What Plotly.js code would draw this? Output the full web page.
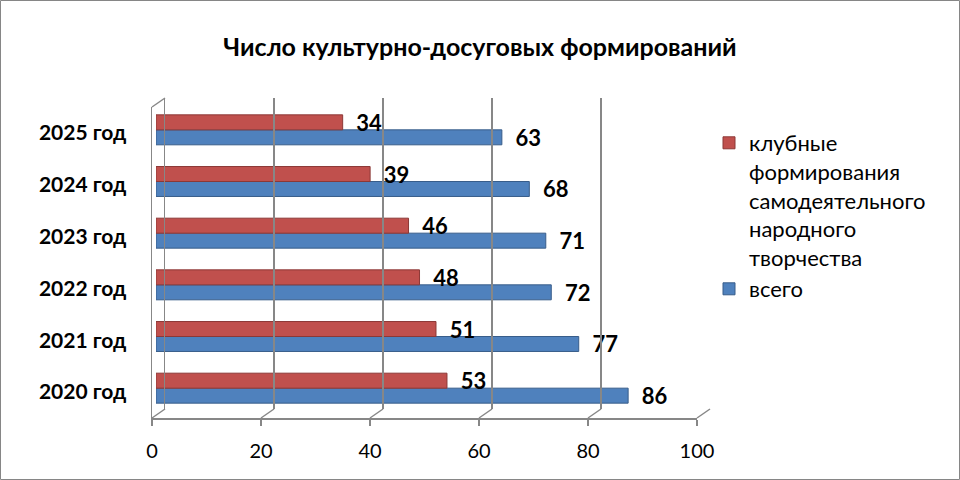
<!DOCTYPE html>
<html>
<head>
<meta charset="utf-8">
<script src="https://cdn.plot.ly/plotly-3.0.1.min.js"></script>
<style>html, body { margin: 0; padding: 0; background: #fff; }</style>
</head>
<body>
<div id="chart" style="width:960px;height:480px"></div>
<script>
const years = ['2020 год', '2021 год', '2022 год', '2023 год', '2024 год', '2025 год'];
const totalValues = [86, 77, 72, 71, 68, 63];
const clubValues = [53, 51, 48, 46, 39, 34];
const xTicks = [0, 20, 40, 60, 80, 100];

const W = 960, H = 480;
const px = v => v / W;
const py = v => 1 - v / H;

const FONT = 'Lato, "Liberation Sans", sans-serif';
const GRID = '#878787';

// Excel 3D box faked with three axis pairs: bars in the middle,
// front floor (ticks + labels) and back wall (grid)
const barX = [px(156), px(705)], barY = [py(414), py(104)];
const frontX = [px(152), px(697)], frontY = [py(418), py(107)];
const backX = [px(165), px(710)], backY = [py(409), py(98)];

const toPaper = (dom, v) => dom[0] + (dom[1] - dom[0]) * v / 100;

const labelFont = { family: FONT, size: 22, color: '#000', weight: 'bold' };

const traces = [
  {
    type: 'bar', orientation: 'h', name: 'всего',
    y: years, x: totalValues,
    marker: { color: '#4F81BD', line: { color: '#385D8A', width: 1 } },
    texttemplate: '\u00a0\u00a0%{x}', textposition: 'outside', textfont: labelFont,
    constraintext: 'none', cliponaxis: false, hoverinfo: 'x'
  },
  {
    type: 'bar', orientation: 'h',
    name: 'клубные<br>формирования<br>самодеятельного<br>народного<br>творчества',
    y: years, x: clubValues,
    marker: { color: '#C0504D', line: { color: '#8C3836', width: 1 } },
    texttemplate: '\u00a0\u00a0%{x}', textposition: 'outside', textfont: labelFont,
    constraintext: 'none', cliponaxis: false, hoverinfo: 'x'
  },
  { type: 'scatter', x: [], y: [], xaxis: 'x2', yaxis: 'y2', showlegend: false, hoverinfo: 'skip' },
  { type: 'scatter', x: [], y: [], xaxis: 'x3', yaxis: 'y3', showlegend: false, hoverinfo: 'skip' }
];

// floor edges joining front ticks to back grid lines, plus the left wall top edge
const shapes = xTicks.map(v => ({
  type: 'line', xref: 'paper', yref: 'paper',
  x0: toPaper(frontX, v), y0: frontY[0], x1: toPaper(backX, v), y1: backY[0],
  line: { color: GRID, width: 1.5 }
}));
shapes.push({
  type: 'line', xref: 'paper', yref: 'paper',
  x0: frontX[0], y0: frontY[1], x1: backX[0], y1: backY[1],
  line: { color: GRID, width: 1.5 }
});
shapes.push({
  type: 'rect', xref: 'paper', yref: 'paper', layer: 'below',
  x0: px(0.5), y0: py(479.5), x1: px(959.5), y1: py(0.5),
  line: { color: '#868686', width: 1 }
});

const layout = {
  width: W, height: H,
  margin: { l: 0, r: 0, t: 0, b: 0 },
  paper_bgcolor: '#fff', plot_bgcolor: 'rgba(0,0,0,0)',
  font: { family: FONT, size: 20, color: '#000' },
  title: {
    text: 'Число культурно-досуговых формирований',
    font: { family: FONT, size: 25, weight: 'bold', color: '#000' },
    x: 0.5, xanchor: 'center', xref: 'paper',
    y: py(47), yanchor: 'middle', yref: 'paper'
  },
  barmode: 'group', bargap: 0.42, bargroupgap: 0,
  xaxis: { domain: barX, anchor: 'y', range: [0, 100], type: 'linear', visible: false, fixedrange: true },
  yaxis: { domain: barY, anchor: 'x', type: 'category', range: [-0.5, 5.5], visible: false, fixedrange: true },
  xaxis2: {
    domain: frontX, anchor: 'y2', range: [0, 100], type: 'linear',
    tickvals: xTicks, showgrid: false, zeroline: false,
    showline: true, linecolor: GRID, linewidth: 1.5,
    ticks: 'outside', ticklen: 6, tickcolor: GRID, tickwidth: 1.5,
    ticklabelstandoff: 8, tickfont: { family: FONT, size: 20 }
  },
  yaxis2: {
    domain: frontY, anchor: 'x2', range: [-0.5, 5.5], type: 'linear',
    tickvals: years.map((_, i) => i), ticktext: years,
    showgrid: false, zeroline: false,
    showline: true, linecolor: GRID, linewidth: 1.5, ticks: '',
    ticklabelstandoff: 20, tickfont: { family: FONT, size: 21, weight: 'bold' }
  },
  xaxis3: {
    domain: backX, anchor: 'y3', range: [0, 100], type: 'linear',
    tickvals: xTicks, showticklabels: false, ticks: '',
    showgrid: true, gridcolor: GRID, gridwidth: 1.5, zeroline: false, showline: false
  },
  yaxis3: {
    domain: backY, anchor: 'x3', range: [0, 1], type: 'linear',
    showticklabels: false, ticks: '', showgrid: false, zeroline: false,
    showline: true, linecolor: GRID, linewidth: 1.5
  },
  legend: {
    x: px(709), y: py(122), xanchor: 'left', yanchor: 'top',
    traceorder: 'reversed', valign: 'top',
    font: { family: FONT, size: 22, color: '#000' },
    bgcolor: 'rgba(0,0,0,0)'
  },
  shapes: shapes,
  showlegend: true
};

Plotly.newPlot('chart', traces, layout, { displayModeBar: false, staticPlot: true });
</script>
</body>
</html>
